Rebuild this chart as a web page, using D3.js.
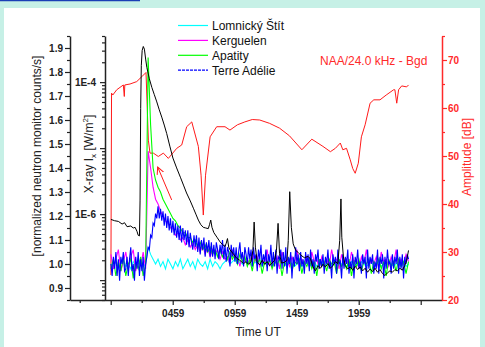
<!DOCTYPE html>
<html>
<head>
<meta charset="utf-8">
<script src="https://cdn.jsdelivr.net/npm/d3@7"></script>
<style>
  html, body { margin: 0; padding: 0; background: #c6f0e6; }
  svg { display: block; font-family: "Liberation Sans", Arial, sans-serif; }
</style>
</head>
<body>
<svg id="chart" width="485" height="347"></svg>
<script>
// ---- data (hours UT on the x axis) ----
// neutron monitors, from 00:00; Terre Adelie every 0.1 h, the others every 0.2 h
var lomnickyStep = 0.2, kerguelenStep = 0.2, apatityStep = 0.2, terreAdelieStep = 0.1;
var lomnicky = [
  1.00, 0.99, 1.01, 0.98, 1.00, 1.02, 0.99, 1.00, 0.98, 1.01, 0.99, 1.00, 1.02, 0.99, 1.00,
  1.07, 1.04, 1.02, 1.00, 1.02, 0.99, 1.01, 0.98, 1.02, 1.00,
  0.98, 1.01, 0.99, 1.02, 0.98, 1.00, 1.02, 0.99, 1.01, 0.98,
  1.02, 1.00, 0.99, 1.01, 0.98, 1.02, 0.99, 1.01, 1.00, 0.98,
  1.00, 1.01, 1.02, 1.00, 1.01, 1.02, 1.00, 1.01, 1.00, 1.02,
  1.00, 1.01, 0.99, 1.01, 1.00, 1.02, 0.99, 1.01, 1.00, 1.01,
  0.99, 1.01, 1.00, 0.99, 1.01, 1.00, 0.99, 1.01, 1.00, 0.99,
  1.00, 1.01, 0.99, 1.00, 1.01, 0.99, 1.00, 1.01, 0.99, 1.00,
  1.01, 0.99, 1.00, 1.01, 0.99, 1.00, 1.01, 0.99, 1.00, 1.01,
  0.99, 1.00, 1.01, 0.99, 1.00, 0.99, 1.01, 1.00, 0.99, 1.00,
  1.01, 0.99, 1.00, 1.01, 0.99, 1.00, 0.99, 1.01, 1.00, 0.99,
  1.00, 1.01, 0.99, 1.00, 0.99, 1.00
];
var kerguelen = [
  1.04, 0.98, 1.02, 1.06, 0.97, 1.01, 1.05, 0.98, 1.03, 1.06, 0.97, 1.02, 0.99, 1.05, 0.98,
  1.47, 1.40, 1.32, 1.27, 1.25, 1.22, 1.20, 1.18, 1.17, 1.15,
  1.15, 1.12, 1.13, 1.10, 1.11, 1.08, 1.10, 1.07, 1.09, 1.06,
  1.08, 1.05, 1.08, 1.04, 1.07, 1.03, 1.06, 1.04, 1.06, 1.02,
  1.05, 1.02, 1.03, 1.00, 1.06, 1.02, 1.03, 0.99, 1.04, 1.01,
  1.02, 1.00, 1.05, 1.01, 1.03, 0.99, 1.02, 1.00, 1.06, 0.99,
  1.02, 1.00, 1.03, 0.98, 1.05, 1.01, 1.02, 0.99, 1.03, 1.00,
  1.06, 0.98, 1.02, 1.00, 1.03, 0.99, 1.05, 1.01, 1.02, 0.98,
  1.03, 1.00, 1.02, 0.99, 1.06, 1.01, 1.02, 0.98, 1.04, 1.00,
  1.02, 0.99, 1.05, 1.01, 1.02, 0.98, 1.03, 1.00, 1.06, 0.99,
  1.02, 1.00, 1.03, 0.98, 1.05, 1.01, 1.02, 0.99, 1.03, 1.00,
  1.06, 0.99, 1.02, 1.00, 1.04, 1.01
];
var apatity = [
  0.98, 1.02, 0.95, 1.01, 0.97, 1.03, 0.95, 1.00, 1.02, 0.94, 1.01, 0.98, 1.03, 0.95, 1.00,
  1.86, 1.58, 1.40, 1.35, 1.32, 1.30, 1.27, 1.25, 1.23, 1.21,
  1.19, 1.18, 1.16, 1.15, 1.13, 1.13, 1.11, 1.11, 1.09, 1.10,
  1.07, 1.09, 1.06, 1.08, 1.05, 1.07, 1.04, 1.06, 1.03, 1.06,
  1.03, 1.05, 1.02, 1.05, 1.02, 1.04, 1.00, 1.04, 1.01, 1.03,
  0.99, 1.02, 0.97, 1.03, 1.00, 1.02, 0.96, 1.01, 0.99, 1.02,
  0.98, 1.01, 1.00, 1.02, 0.95, 1.01, 0.99, 1.02, 0.97, 1.01,
  1.00, 1.02, 0.96, 1.01, 0.99, 1.02, 0.98, 1.01, 0.95, 1.02,
  0.99, 1.01, 0.97, 1.02, 1.00, 1.01, 0.96, 1.02, 0.99, 1.01,
  0.98, 1.02, 0.95, 1.01, 0.99, 1.02, 0.97, 1.01, 1.00, 1.02,
  0.96, 1.01, 0.99, 1.02, 0.98, 1.01, 0.95, 1.02, 0.99, 1.01,
  0.97, 1.02, 0.99, 1.01, 0.96, 1.01
];
var terreAdelie = [
  1.00, 0.95, 1.03, 0.98, 1.05, 0.95, 1.02, 0.93, 1.03, 1.00, 1.05, 0.97, 0.98, 1.03, 0.95,
  1.02, 1.07, 0.97, 1.00, 0.93, 1.03, 0.98, 1.05, 0.95, 1.02, 0.97, 1.03, 0.93, 1.00,
  1.03, 1.07, 1.06, 1.12, 1.11, 1.17, 1.16, 1.21, 1.19, 1.24, 1.19, 1.23,
  1.18, 1.22, 1.16, 1.21, 1.15, 1.20, 1.14, 1.19, 1.13, 1.18,
  1.12, 1.17, 1.11, 1.16, 1.10, 1.16, 1.09, 1.15, 1.10, 1.14,
  1.08, 1.14, 1.07, 1.13, 1.09, 1.06, 1.12, 1.07, 1.12, 1.05,
  1.11, 1.04, 1.10, 1.06, 1.11, 1.03, 1.09, 1.05, 1.10, 1.03,
  1.09, 1.03, 1.08, 1.02, 1.09, 1.06, 1.02, 1.08, 1.04, 1.10,
  1.02, 1.08, 1.01, 1.07, 1.05, 0.99, 1.08, 1.03, 1.07, 1.01,
  1.07, 1.00, 1.05, 1.09, 1.02, 1.05, 0.99, 1.07, 1.04, 1.00,
  1.07, 1.02, 1.06, 0.99, 1.07, 1.02, 1.04, 0.97, 1.06, 1.02,
  1.08, 0.99, 1.04, 1.01, 1.06, 0.97, 1.04, 1.01, 1.08, 0.99,
  1.05, 0.99, 1.06, 0.96, 1.03, 1.02, 1.06, 0.98, 1.05, 0.99,
  1.07, 0.96, 1.03, 1.00, 1.05, 0.94, 1.03, 0.99, 1.07, 1.00,
  1.04, 0.97, 1.05, 0.99, 1.02, 0.96, 1.05, 1.00, 1.04, 0.97,
  1.06, 0.99, 1.02, 0.96, 1.04, 1.01, 1.06, 0.98, 1.02, 0.99,
  1.04, 0.96, 1.03, 1.00, 1.06, 0.98, 1.01, 0.94, 1.04, 1.00,
  1.03, 0.96, 1.06, 1.00, 1.01, 0.94, 1.04, 0.98, 1.03, 1.00,
  1.06, 0.96, 1.01, 0.98, 1.04, 0.94, 1.03, 1.00, 1.06, 0.98,
  1.01, 0.96, 1.04, 1.00, 1.03, 0.94, 1.06, 0.98, 1.03, 1.00,
  1.04, 0.96, 1.01, 0.98, 1.06, 0.96, 1.03, 1.00, 1.04, 0.94,
  1.03, 0.98, 1.06, 1.00, 1.01, 0.96, 1.04, 0.98, 1.03, 1.00,
  1.06, 0.96, 1.03, 0.98, 1.04, 0.94, 1.03, 1.00, 1.04, 1.02
];

// GOES X-ray flux, log10(W/m2)
var xrayHours = [0.0, 0.3, 0.6, 0.9, 1.1, 1.3, 1.6, 1.8, 1.95, 2.1, 2.2, 2.3, 2.35, 2.4, 2.45, 2.52, 2.61, 2.7, 2.8, 2.9,
  3.1, 3.3, 3.5, 3.7, 3.9, 4.1, 4.3, 4.5, 4.75, 5.0, 5.3, 5.6, 5.85, 6.1, 6.4, 6.65, 6.85, 7.05, 7.25, 7.45,
  7.65, 7.85, 7.95, 8.05, 8.15, 8.3, 8.55, 8.8, 9.0, 9.2, 9.3, 9.4, 9.5, 9.6, 9.9, 10.15, 10.4, 10.7, 10.9, 11.1,
  11.3, 11.45, 11.55, 11.65, 11.8, 12.0, 12.2, 12.4, 12.6, 12.8, 13.0, 13.2, 13.35, 13.48, 13.6, 13.75, 14.0, 14.2, 14.3, 14.42,
  14.55, 14.7, 14.9, 15.1, 15.3, 15.6, 15.9, 16.1, 16.3, 16.5, 16.7, 16.9, 17.1, 17.3, 17.5, 17.7, 17.9, 18.1, 18.3, 18.45,
  18.55, 18.62, 18.75, 18.9, 19.1, 19.3, 19.5, 19.7, 19.9, 20.1, 20.3, 20.5, 20.7, 20.9, 21.1, 21.3, 21.5, 21.7, 21.9, 22.1,
  22.3, 22.5, 22.7, 22.9, 23.1, 23.3, 23.5, 23.7, 23.85, 24.0];
var xrayLog = [-6.08, -6.10, -6.11, -6.15, -6.13, -6.19, -6.18, -6.21, -6.20, -6.26, -6.32, -6.33, -5.80, -4.40, -3.75, -3.52, -3.46, -3.50, -3.65, -3.78,
  -3.95, -4.08, -4.19, -4.30, -4.42, -4.53, -4.65, -4.78, -4.97, -5.15, -5.30, -5.44, -5.56, -5.68, -5.80, -5.91, -6.00, -6.09, -6.16, -6.20,
  -6.21, -6.22, -6.16, -6.09, -6.20, -6.28, -6.35, -6.42, -6.46, -6.49, -6.44, -6.37, -6.50, -6.54, -6.61, -6.67, -6.70, -6.75, -6.72, -6.76,
  -6.72, -6.55, -6.12, -6.50, -6.73, -6.77, -6.70, -6.76, -6.72, -6.78, -6.74, -6.70, -6.55, -6.14, -6.60, -6.74, -6.73, -6.70, -6.40, -5.66,
  -6.20, -6.45, -6.55, -6.58, -6.62, -6.66, -6.64, -6.68, -6.80, -6.86, -6.78, -6.82, -6.76, -6.80, -6.75, -6.82, -6.78, -6.72, -6.75, -6.40,
  -5.77, -6.35, -6.65, -6.78, -6.83, -6.80, -6.85, -6.79, -6.84, -6.80, -6.86, -6.82, -6.88, -6.83, -6.87, -6.82, -6.88, -6.84, -6.90, -6.93,
  -6.89, -6.86, -6.88, -6.84, -6.86, -6.82, -6.85, -6.78, -6.70, -6.55];

// NAA 24.0 kHz amplitude minus background, dB
var naaHours = [0.0, 0.05, 0.15, 0.47, 1.0, 1.08, 1.12, 1.54, 2.08, 2.48, 2.83, 3.02, 3.15, 3.42, 3.82, 4.23, 4.63, 5.31, 5.71, 6.11,
  6.52, 7.05, 7.27, 7.45, 7.63, 8.0, 8.53, 9.2, 9.6, 10.2, 10.8, 11.4, 12.0, 12.8, 13.6, 14.4, 15.4, 16.2, 17.1, 17.7,
  18.1, 18.5, 18.7, 19.0, 19.3, 19.5, 19.7, 19.95, 20.2, 20.5, 20.9, 21.2, 21.7, 22.2, 22.8, 22.9, 23.05, 23.2, 23.45, 23.85, 24.0];
var naaDb = [25.2, 63.1, 62.7, 63.8, 64.8, 62.4, 64.8, 65.0, 65.5, 66.5, 67.4, 53.3, 50.6, 50.6, 49.9, 50.6, 49.5, 51.6, 52.3, 56.1,
  57.1, 52.0, 46.0, 37.7, 46.0, 54.0, 56.1, 56.1, 55.4, 56.5, 57.1, 57.6, 57.5, 56.8, 55.8, 54.2, 51.3, 53.5, 52.0, 50.9,
  51.6, 52.7, 51.3, 51.6, 49.2, 47.4, 46.4, 48.5, 54.0, 56.5, 61.0, 61.7, 61.7, 62.7, 63.8, 63.8, 61.0, 63.8, 64.6, 64.4, 64.8];

var legendNames = ["Lomnický Štít", "Kerguelen", "Apatity", "Terre Adélie"];
var legendColors = ["#00ffff", "#ff00ff", "#00ff00", "#0000ff"];

var xTickHours = [4.9833, 9.9833, 14.9833, 19.9833];
var xTickLabels = ["0459", "0959", "1459", "1959"];
var xEdgeTicks = [-0.0167, 24.9833];
var xMinorTicks = [-2.5167, 2.4833, 7.4833, 12.4833, 17.4833, 22.4833];
var nmTicks = [0.9, 1.0, 1.1, 1.2, 1.3, 1.4, 1.5, 1.6, 1.7, 1.8, 1.9];
var nmMinor = [0.85, 0.95, 1.05, 1.15, 1.25, 1.35, 1.45, 1.55, 1.65, 1.75, 1.85, 1.95];
var xrayMajor = [1e-7, 1e-6, 1e-5, 1e-4];
var xrayMajorLabels = ["", "1E-6", "", "1E-4"];
var ampTicks = [20, 30, 40, 50, 60, 70];
var ampMinor = [25, 35, 45, 55, 65, 75];

// ---- scales ----
var x = d3.scaleLinear().domain([-3.3, 26.7]).range([70, 442]);
var yN = d3.scaleLinear().domain([0.85, 1.95]).range([300, 36]);
var yX = d3.scaleLog().domain([5e-8, 5e-4]).range([300, 36]);
var yA = d3.scaleLinear().domain([20, 75]).range([300, 36]);

var svg = d3.select("#chart");
svg.append("rect").attr("x", 4).attr("y", 8).attr("width", 476).attr("height", 339).attr("fill", "#fff");
svg.append("line").attr("x1", 0).attr("x2", 140).attr("y1", 0.5).attr("y2", 0.5)
  .attr("stroke", "#1a3fb5").attr("stroke-width", 1.5);

function styleAxis(g, color) {
  g.select(".domain").attr("stroke", color).attr("stroke-width", 1.5);
  g.selectAll(".tick line").attr("stroke", color).attr("stroke-width", 1.2);
  g.selectAll(".tick text").attr("fill", color).attr("font-size", 10).attr("font-weight", "bold")
    .attr("font-family", "Liberation Sans, Arial, sans-serif");
}
function minorAxis(axis, tf) {
  var g = svg.append("g").attr("transform", tf).call(axis.tickFormat(""));
  g.select(".domain").remove();
  return g;
}

// ---- lines ----
var plot = svg.append("g");

var naaLine = d3.line().x(function (d, i) { return x(naaHours[i]); }).y(function (d) { return yA(d); });
plot.append("path").datum(naaDb).attr("d", naaLine).attr("fill", "none").attr("stroke", "#ff1a1a").attr("stroke-width", 1);

var nmSeries = [
  { vals: lomnicky, step: lomnickyStep },
  { vals: kerguelen, step: kerguelenStep },
  { vals: apatity, step: apatityStep },
  { vals: terreAdelie, step: terreAdelieStep }
];
nmSeries.forEach(function (s, k) {
  var line = d3.line().x(function (d, i) { return x(i * s.step); }).y(function (d) { return yN(d); });
  plot.append("path").datum(s.vals).attr("d", line).attr("fill", "none")
    .attr("stroke", legendColors[k]).attr("stroke-width", 1.1);
});

var xrayLine = d3.line().x(function (d, i) { return x(xrayHours[i]); }).y(function (d) { return yX(Math.pow(10, d)); });
plot.append("path").datum(xrayLog).attr("d", xrayLine).attr("fill", "none").attr("stroke", "#000").attr("stroke-width", 1);

// annotation arrow
svg.append("defs").append("marker").attr("id", "ah").attr("viewBox", "0 0 8 8")
  .attr("refX", 7).attr("refY", 4).attr("markerWidth", 8).attr("markerHeight", 8)
  .attr("markerUnits", "userSpaceOnUse").attr("orient", "auto")
  .append("path").attr("d", "M0,0.5 L7,4 L0,7.5").attr("fill", "none").attr("stroke", "#ff1a1a");
svg.append("line").attr("x1", x(4.9)).attr("y1", yN(1.267)).attr("x2", x(3.77)).attr("y2", yN(1.404))
  .attr("stroke", "#ff1a1a").attr("stroke-width", 1).attr("marker-end", "url(#ah)");

// ---- axes ----
var gx = svg.append("g").attr("transform", "translate(0,300)")
  .call(d3.axisBottom(x).tickValues(xTickHours.concat(xEdgeTicks)).tickSize(5).tickSizeOuter(0).tickPadding(5)
    .tickFormat(function (d) { var i = xTickHours.indexOf(d); return i < 0 ? "" : xTickLabels[i]; }));
styleAxis(gx, "#222");
styleAxis(minorAxis(d3.axisBottom(x).tickValues(xMinorTicks).tickSize(3), "translate(0,300)"), "#222");

var gn = svg.append("g").attr("transform", "translate(70,0)")
  .call(d3.axisLeft(yN).tickValues(nmTicks).tickSize(5).tickSizeOuter(0).tickPadding(2).tickFormat(d3.format(".1f")));
styleAxis(gn, "#222");
styleAxis(minorAxis(d3.axisLeft(yN).tickValues(nmMinor).tickSize(3), "translate(70,0)"), "#222");

var minorX = [];
[-8, -7, -6, -5, -4].forEach(function (p) {
  for (var k = 2; k <= 9; k++) { var v = k * Math.pow(10, p); if (v >= 5e-8 && v <= 5e-4) minorX.push(v); }
});
var gxr = svg.append("g").attr("transform", "translate(105,0)")
  .call(d3.axisLeft(yX).tickValues(xrayMajor).tickSize(5).tickSizeOuter(0).tickPadding(4)
    .tickFormat(function (d, i) { return xrayMajorLabels[i]; }));
styleAxis(gxr, "#222");
styleAxis(minorAxis(d3.axisLeft(yX).tickValues(minorX).tickSize(3), "translate(105,0)"), "#222");

var ga = svg.append("g").attr("transform", "translate(442,0)")
  .call(d3.axisRight(yA).tickValues(ampTicks).tickSize(5).tickSizeOuter(0).tickPadding(1));
styleAxis(ga, "#ff2a2a");
styleAxis(minorAxis(d3.axisRight(yA).tickValues(ampMinor).tickSize(3), "translate(442,0)"), "#ff2a2a");

// ---- titles ----
svg.append("text").attr("x", 258).attr("y", 336).attr("text-anchor", "middle")
  .attr("font-size", 12).attr("fill", "#222").text("Time UT");
svg.append("text").attr("transform", "translate(41,156) rotate(-90)").attr("text-anchor", "middle")
  .attr("font-size", 12).attr("fill", "#222").text("[normalized neutron monitor counts/s]");
var xt = svg.append("text").attr("transform", "translate(93,154) rotate(-90)").attr("text-anchor", "middle")
  .attr("font-size", 12).attr("fill", "#222");
xt.append("tspan").text("X-ray I");
xt.append("tspan").attr("font-size", 8).attr("dy", 3).text("x");
xt.append("tspan").attr("dy", -3).text(" [W/m");
xt.append("tspan").attr("font-size", 8).attr("dy", -5).text("2");
xt.append("tspan").attr("dy", 5).text("]");
svg.append("text").attr("transform", "translate(471,157) rotate(-90)").attr("text-anchor", "middle")
  .attr("font-size", 12).attr("fill", "#ff2a2a").text("Amplitude [dB]");
svg.append("text").attr("x", 320).attr("y", 65).attr("font-size", 12).attr("fill", "#ff2a2a")
  .text("NAA/24.0 kHz - Bgd");

// ---- legend ----
var legendItems = legendNames.map(function (n, i) { return { name: n, color: legendColors[i], row: i }; });
var leg = svg.append("g").attr("class", "legend");
legendItems.forEach(function (it) {
  var yRow = 25.5 + it.row * 14.9;
  leg.append("line").attr("x1", 178).attr("x2", 208).attr("y1", yRow).attr("y2", yRow)
    .attr("stroke", it.color).attr("stroke-width", 1.2)
    .attr("stroke-dasharray", it.row === 3 ? "3,1" : "none");
  leg.append("text").attr("x", 212).attr("y", yRow + 4.5).attr("font-size", 12).attr("fill", "#111").text(it.name);
});
</script>
</body>
</html>
